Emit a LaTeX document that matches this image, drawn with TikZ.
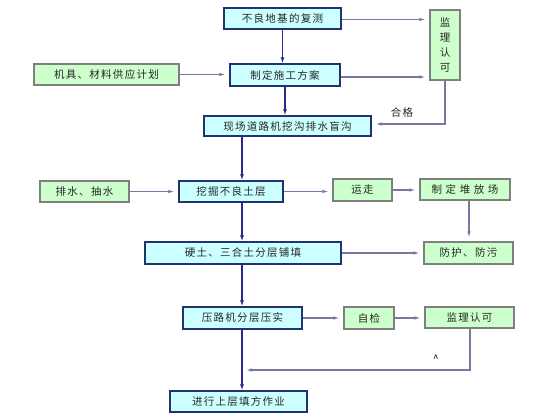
\documentclass[tikz,border=0pt]{standalone}
\usepackage{fontspec}
\setmainfont{Noto Sans CJK SC}[LetterSpace=12]
\usetikzlibrary{arrows.meta}
\definecolor{bluefill}{HTML}{CCFFFF}
\definecolor{blueline}{HTML}{1F3470}
\definecolor{greenfill}{HTML}{CCFFCC}
\definecolor{greenline}{HTML}{7F7F7F}
\definecolor{grayarrow}{HTML}{7878A0}
\definecolor{mainarrow}{HTML}{2A2A8A}
\tikzset{
  boxfont/.style={font=\fontsize{10.5}{12}\selectfont, text=black!85},
  bluebox/.style={draw=blueline, line width=1.3pt, fill=bluefill, inner sep=0pt, align=center, boxfont},
  greenbox/.style={draw=greenline, line width=1.1pt, fill=greenfill, inner sep=0pt, align=center, boxfont},
  grayarr/.style={draw=grayarrow, line width=1.1pt, -{Latex[length=6pt,width=3.5pt]}, shorten >=4pt},
  mainarr/.style={draw=mainarrow, line width=1.3pt, -{Latex[length=6pt,width=4pt]}},
}
\newcommand{\bx}[7]{\node[#1, minimum width=#4pt-#2pt, minimum height=#5pt-#3pt] (#6) at ({(#2+#4)/2},{(#3+#5)/2}) {#7};}
\begin{document}
\begin{tikzpicture}[x=1pt,y=-1pt]
\useasboundingbox[fill=white] (0,0) rectangle (560,420);
% boxes
\bx{bluebox}{224}{8}{341}{29}{fc}{不良地基的复测}
\bx{greenbox}{430}{10}{460}{80}{jl}{监\\[3pt]理\\[3pt]认\\[3pt]可}
\bx{greenbox}{34}{64}{179}{85}{jj}{机具、材料供应计划}
\bx{bluebox}{230}{64}{340}{86}{zd}{制定施工方案}
\bx{bluebox}{204}{116}{371}{136}{xc}{现场道路机挖沟排水盲沟}
\bx{greenbox}{40}{181}{129}{202}{ps}{排水、抽水}
\bx{bluebox}{179}{181}{283}{202}{wj}{挖掘不良土层}
\bx{greenbox}{333}{179}{392}{201}{yz}{运走}
\bx{greenbox}{420}{179}{510}{200}{df}{制 定 堆 放 场}
\bx{bluebox}{145}{242}{341}{264}{yt}{硬土、三合土分层铺填}
\bx{greenbox}{424}{242}{513}{264}{fh}{防护、防污}
\bx{bluebox}{183}{307}{302}{329}{yl}{压路机分层压实}
\bx{greenbox}{344}{307}{394}{329}{zj}{自检}
\bx{greenbox}{425}{307}{514}{328}{jl2}{监理认可}
\bx{bluebox}{170}{391}{307}{412}{jx}{进行上层填方作业}
% labels
\node[boxfont] (hg) at (402,112) {合格};
\node[font=\fontsize{10}{10}\selectfont] (up) at (436,359) {\^{}};
% main line coordinate
\coordinate (m) at (242,0);
\coordinate (fb) at (470,370);
% dark vertical arrows
\draw[mainarr] (fc.south) -- (fc.south |- zd.north);
\draw[mainarr] (zd.south) -- (zd.south |- xc.north);
\draw[mainarr] (xc.south -| m) -- (wj.north -| m);
\draw[mainarr] (wj.south -| m) -- (yt.north -| m);
\draw[mainarr] (yt.south -| m) -- (yl.north -| m);
\draw[mainarr] (yl.south -| m) -- (jx.north -| m);
% gray arrows
\draw[grayarr] ([yshift=-1pt]fc.east) -- ([yshift=-1pt]fc.east -| jl.west);
\draw[grayarr] ([yshift=-2pt]zd.east) -- ([yshift=-2pt]zd.east -| jl.west);
\draw[grayarr] (jj.east) -- (jj.east -| zd.west);
\draw[grayarr] (jl.south) |- ([yshift=2pt]xc.east);
\draw[grayarr] (ps.east) -- (ps.east -| wj.west);
\draw[grayarr] (wj.east) -- (wj.east -| yz.west);
\draw[grayarr] (yz.east) -- (yz.east -| df.west);
\draw[grayarr] ([xshift=4pt]df.south) -- ([xshift=4pt]df.south |- fh.north);
\draw[grayarr] (yt.east) -- (yt.east -| fh.west);
\draw[grayarr] (yl.east) -- (yl.east -| zj.west);
\draw[grayarr] (zj.east) -- (zj.east -| jl2.west);
\draw[grayarr] (jl2.south -| fb) -- (fb) -- (fb -| m);
\end{tikzpicture}
\end{document}
